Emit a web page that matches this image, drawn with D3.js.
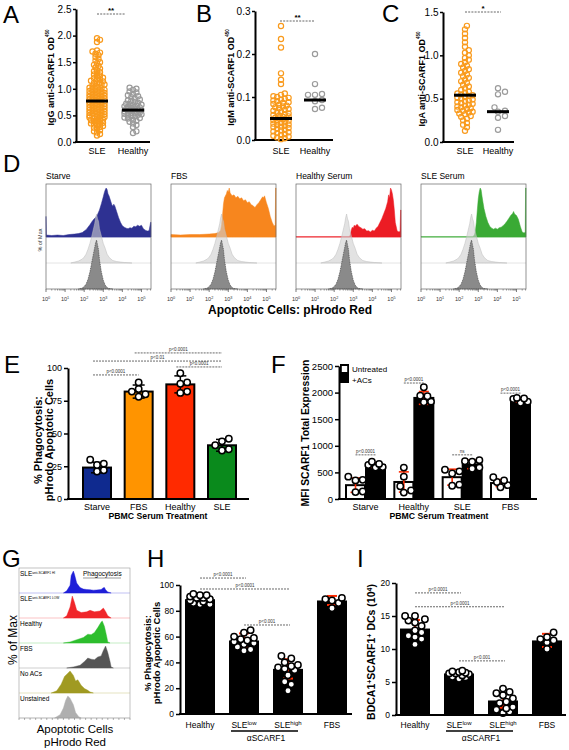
<!DOCTYPE html>
<html><head><meta charset="utf-8">
<script src="https://cdn.jsdelivr.net/npm/d3@7"></script>
<style>body{margin:0;background:#fff;} svg{display:block;}</style>
</head><body><svg id="c" width="569" height="750"></svg>
<script>
// ================= DATA =================
const topGroups = ["SLE", "Healthy"];
const aSLE = [0.12,0.15,0.18,0.2,0.22,0.25,0.27,0.28,0.3,0.31,0.33,0.34,0.35,0.36,0.38,0.39,0.4,0.41,0.42,0.43,0.44,0.45,0.46,0.47,0.48,0.49,0.5,0.5,0.51,0.52,0.53,0.54,0.55,0.55,0.56,0.57,0.58,0.59,0.6,0.6,0.61,0.62,0.63,0.64,0.65,0.65,0.66,0.67,0.68,0.69,0.7,0.7,0.71,0.72,0.73,0.74,0.75,0.75,0.76,0.77,0.78,0.79,0.8,0.8,0.81,0.82,0.83,0.84,0.85,0.85,0.86,0.87,0.88,0.89,0.9,0.9,0.91,0.92,0.93,0.94,0.95,0.96,0.97,0.98,0.99,1.0,1.01,1.02,1.03,1.05,1.06,1.07,1.08,1.1,1.11,1.12,1.14,1.15,1.17,1.18,1.2,1.21,1.23,1.25,1.27,1.29,1.31,1.33,1.35,1.38,1.4,1.43,1.45,1.48,1.5,1.53,1.56,1.6,1.63,1.66,1.68,1.7,1.72,1.88,1.92,1.95];
const aHealthy = [0.17,0.2,0.28,0.32,0.35,0.38,0.4,0.42,0.44,0.45,0.46,0.48,0.49,0.5,0.51,0.52,0.53,0.54,0.55,0.55,0.56,0.57,0.58,0.59,0.6,0.6,0.61,0.62,0.63,0.64,0.65,0.66,0.67,0.68,0.69,0.7,0.71,0.72,0.74,0.75,0.77,0.78,0.8,0.82,0.84,0.86,0.88,0.9,0.93,0.95,0.98,1.0,1.02];
const aMedians = [0.77, 0.60];
const bSLE = [0.002,0.004,0.006,0.008,0.01,0.012,0.014,0.016,0.018,0.02,0.022,0.024,0.026,0.028,0.03,0.031,0.033,0.035,0.036,0.038,0.04,0.041,0.043,0.045,0.046,0.048,0.05,0.051,0.052,0.054,0.055,0.057,0.058,0.06,0.062,0.064,0.066,0.068,0.07,0.072,0.074,0.076,0.078,0.08,0.082,0.084,0.086,0.088,0.09,0.092,0.094,0.096,0.098,0.1,0.102,0.105,0.108,0.13,0.14,0.155,0.215,0.235,0.265];
const bHealthy = [0.20,0.13,0.107,0.105,0.105,0.093,0.09,0.075,0.072];
const bMedians = [0.05, 0.093];
const cSLE = [0.13,0.17,0.2,0.22,0.25,0.27,0.29,0.3,0.32,0.33,0.34,0.35,0.36,0.37,0.38,0.39,0.4,0.41,0.42,0.43,0.44,0.45,0.46,0.47,0.48,0.49,0.5,0.51,0.52,0.53,0.54,0.55,0.56,0.57,0.58,0.6,0.62,0.64,0.66,0.68,0.7,0.72,0.74,0.76,0.78,0.8,0.82,0.84,0.86,0.88,0.9,0.92,0.95,0.97,1.0,1.03,1.06,1.1,1.15,1.2,1.25,1.3,1.34];
const cHealthy = [0.62,0.58,0.55,0.40,0.36,0.35,0.30,0.28,0.14];
const cMedians = [0.54, 0.35];

// Panel D histograms: [log10 intensity, % of max]
const dTitles = ["Starve", "FBS", "Healthy Serum", "SLE Serum"];
const dStarve = [[0,42],[0.02,4],[0.3,3],[0.6,4],[0.9,3],[1.2,5],[1.5,6],[1.7,7],[1.9,9],[2.0,12],[2.1,15],[2.2,20],[2.3,25],[2.4,31],[2.5,36],[2.6,40],[2.7,46],[2.8,55],[2.9,68],[3.0,82],[3.05,90],[3.1,96],[3.15,100],[3.2,97],[3.25,88],[3.3,84],[3.4,72],[3.45,66],[3.5,63],[3.55,67],[3.6,64],[3.65,58],[3.7,52],[3.8,40],[3.9,30],[4.0,23],[4.1,20],[4.2,18],[4.3,17],[4.4,19],[4.5,18],[4.6,22],[4.7,21],[4.8,24],[4.9,22],[5.0,24],[5.1,17],[5.2,14],[5.3,12],[5.4,13],[5.48,30],[5.5,30]];
const dFBS = [[0,5],[0.5,4],[1.0,5],[1.5,5],[2.0,6],[2.3,7],[2.5,9],[2.6,14],[2.65,25],[2.7,45],[2.75,68],[2.8,80],[2.9,88],[2.95,95],[3.0,92],[3.05,100],[3.1,90],[3.2,84],[3.3,86],[3.4,80],[3.5,83],[3.6,78],[3.7,80],[3.8,74],[3.9,76],[4.0,70],[4.1,72],[4.2,66],[4.3,64],[4.4,60],[4.5,66],[4.6,70],[4.7,76],[4.8,82],[4.85,80],[4.9,84],[5.0,70],[5.1,58],[5.2,42],[5.3,30],[5.4,22],[5.46,25],[5.48,100],[5.5,100]];
const dHealthy = [[0,0.5],[2.8,0.5],[2.85,5],[2.9,15],[2.95,20],[3.0,18],[3.05,24],[3.1,22],[3.2,26],[3.3,21],[3.4,19],[3.5,16],[3.6,17],[3.7,12],[3.8,13],[3.9,10],[4.0,14],[4.1,12],[4.2,18],[4.3,22],[4.4,30],[4.5,38],[4.6,48],[4.7,58],[4.8,72],[4.85,86],[4.9,80],[4.95,100],[5.0,96],[5.05,88],[5.1,75],[5.15,55],[5.2,30],[5.3,12],[5.4,10],[5.45,12],[5.48,55],[5.5,55]];
const dSLE = [[0,0.5],[2.7,0.5],[2.8,4],[2.85,12],[2.9,30],[2.95,55],[3.0,78],[3.05,92],[3.1,100],[3.15,96],[3.2,82],[3.25,70],[3.3,58],[3.4,42],[3.5,30],[3.6,22],[3.7,18],[3.8,16],[3.9,18],[4.0,16],[4.1,19],[4.2,20],[4.3,23],[4.4,27],[4.5,32],[4.6,38],[4.7,44],[4.8,48],[4.85,52],[4.9,47],[5.0,44],[5.1,36],[5.2,22],[5.3,10],[5.4,8],[5.46,10],[5.48,100],[5.5,100]];
const dLightRef = [[1.3,0],[1.5,2],[1.7,4],[1.9,8],[2.0,12],[2.1,18],[2.2,28],[2.3,40],[2.4,55],[2.5,72],[2.55,80],[2.6,92],[2.65,100],[2.7,90],[2.75,85],[2.8,70],[2.9,55],[3.0,40],[3.1,30],[3.2,18],[3.3,12],[3.4,8],[3.5,5],[3.7,3],[3.9,2],[4.1,1],[4.5,0]];
const dDarkRef = [[1.7,0],[1.9,2],[2.0,5],[2.1,10],[2.2,20],[2.3,35],[2.4,55],[2.5,75],[2.55,85],[2.6,95],[2.65,100],[2.7,90],[2.75,80],[2.8,60],[2.9,35],[3.0,18],[3.1,8],[3.2,3],[3.3,1],[3.5,0]];
const dDecades = [0,1,2,3,4,5];

// Panel E
const eCats = ["Starve", "FBS", "Healthy", "SLE"];
const eMeans = [24, 82, 87.5, 41];
const eSD = [4, 5, 6.5, 4.5];
const ePoints = [[30,27,26,22,21],[89,84,82,80,78],[96,89,88,82,81],[46,44,41,38,37]];
const eSigFrom = ["Starve","Healthy","Starve","FBS"];
const eSigTo = ["FBS","SLE","SLE","SLE"];
const eSigLevel = [94.7, 100.8, 105.3, 111.5];
const eSigText = ["p<0.0001","p<0.0001","p<0.01","p<0.0001"];

// Panel F
const fCats = ["Starve", "Healthy", "SLE", "FBS"];
const fSeries = ["Untreated", "+ACs"];
const fMeansU = [260, 320, 410, 300];
const fMeansA = [640, 1900, 650, 1860];
const fSDU = [135, 190, 150, 65];
const fSDA = [45, 120, 80, 35];
const fPtsU = [[420,360,350,140,130],[590,420,240,160,120],[550,520,480,270,250],[410,350,320,260,220]];
const fPtsA = [[700,660,640,600,590],[2100,1940,1930,1830,1820],[730,710,700,590,570],[1900,1890,1880,1830,1810]];
const fSigLevel = [830, 2180, 830, 1990];
const fSigText = ["p<0.0001","p<0.0001","ns","p<0.0001"];

// Panel G histograms: [fraction of axis, % of max]
const gLabels = ["SLE","SLE","Healthy","FBS","No ACs","Unstained"];
const gSups = ["anti-SCARF1 HI","anti-SCARF1 LOW","","","",""];
const gHi = [[0.40,0],[0.43,10],[0.46,35],[0.47,80],[0.49,100],[0.50,85],[0.52,45],[0.55,25],[0.58,18],[0.61,16],[0.64,15],[0.67,13],[0.70,14],[0.74,16],[0.76,24],[0.77,25],[0.78,15],[0.80,5],[0.83,0]];
const gLow = [[0.40,0],[0.43,10],[0.46,50],[0.48,100],[0.50,70],[0.52,35],[0.56,25],[0.61,28],[0.64,35],[0.68,28],[0.73,32],[0.76,45],[0.78,30],[0.80,10],[0.83,0]];
const gHealthy = [[0.40,0],[0.46,5],[0.52,15],[0.58,25],[0.62,40],[0.65,38],[0.68,48],[0.71,70],[0.74,95],[0.75,100],[0.77,75],[0.79,30],[0.80,5],[0.82,0]];
const gFBS = [[0.43,0],[0.49,5],[0.55,12],[0.59,30],[0.62,45],[0.65,40],[0.68,38],[0.71,50],[0.74,55],[0.76,80],[0.78,100],[0.80,70],[0.82,30],[0.83,5],[0.85,0]];
const gNoACs = [[0.29,0],[0.34,10],[0.38,40],[0.41,75],[0.44,90],[0.46,100],[0.49,80],[0.51,55],[0.53,60],[0.56,35],[0.59,20],[0.62,12],[0.64,5],[0.67,0]];
const gUnstained = [[0.32,0],[0.37,15],[0.40,45],[0.42,80],[0.44,100],[0.46,90],[0.49,60],[0.51,25],[0.54,5],[0.56,0]];

// Panels H, I
const hiCats = ["Healthy", "SLElow", "SLEhigh", "FBS"];
const hMeans = [89, 57, 35, 88];
const hSD = [2.5, 5.5, 7.5, 3.5];
const hPts = [[93,92,92,91,90,90,89,88,87,86,85,85],[65,63,60,59,58,57,56,55,54,52,50,49],[45,43,40,38,37,36,35,34,30,25,23,18],[90,89,88,86,82]];
const hSigFrom = ["Healthy","Healthy","SLElow"];
const hSigTo = ["SLElow","SLEhigh","SLEhigh"];
const hSigLevel = [105.4, 96.9, 69];
const hSigText = ["p<0.0001","p<0.0001","p<0.001"];
const iMeans = [13.1, 6.3, 2.2, 11.3];
const iSD = [1.3, 0.3, 1.1, 1.0];
const iPts = [[15.0,15.0,14.5,14.3,14.0,13.5,12.8,12.5,12.0,11.8,11.5,10.7],[6.7,6.6,6.5,6.4,6.3,6.3,6.2,6.0,5.8,5.7,5.5],[4.0,3.5,3.3,3.0,2.5,2.0,1.8,1.2,1.0,0.8,0.5,0.3],[12.5,11.8,11.5,11.3,11.0,10.0]];
const iSigLevel = [18.5, 16.4, 8.2];
const iSigText = ["p<0.0001","p<0.0001","p<0.001"];

// ================= DRAWING =================
const FONT = "'Liberation Sans', Arial, Helvetica, sans-serif";
const svg = d3.select("#c").attr("font-family", FONT);
svg.append("rect").attr("width",569).attr("height",750).attr("fill","#fff");

function txt(x, y, s, size, opts = {}) {
  const t = svg.append("text").attr("x", x).attr("y", y).attr("font-size", size)
    .attr("fill", opts.fill || "#000").attr("text-anchor", opts.anchor || "start")
    .attr("font-weight", opts.bold ? "bold" : "normal");
  if (opts.rotate) t.attr("transform", `rotate(-90,${x},${y})`);
  if (s !== null) t.text(s);
  return t;
}
function rich(t, parts, supSize, shift) {
  let up = false;
  parts.forEach(([s, sup]) => {
    const ts = t.append("tspan").text(s);
    if (sup) { ts.attr("font-size", supSize); if (!up) { ts.attr("dy", -shift); up = true; } }
    else if (up) { ts.attr("dy", shift); up = false; }
  });
  return t;
}
function yAxis(scale, x, ticks, fmt, fs, tk = 4, pad = 2) {
  const ax = svg.append("g").attr("transform", `translate(${x},0)`)
    .call(d3.axisLeft(scale).tickValues(ticks).tickFormat(fmt).tickSize(tk).tickSizeOuter(0).tickPadding(pad));
  ax.attr("font-family", FONT);
  ax.select(".domain").attr("stroke-width", 2).attr("stroke", "#000");
  ax.selectAll(".tick line").attr("stroke-width", 1.5).attr("stroke", "#000");
  ax.selectAll("text").attr("font-size", fs).attr("fill", "#000");
}
function hline(x1, x2, y, w, col = "#000") {
  svg.append("line").attr("x1", x1).attr("x2", x2).attr("y1", y).attr("y2", y)
    .attr("stroke", col).attr("stroke-width", w);
}
function sigLine(x1, x2, y, label, fs) {
  svg.append("line").attr("x1", x1).attr("x2", x2).attr("y1", y).attr("y2", y)
    .attr("stroke", "#444").attr("stroke-width", 0.8).attr("stroke-dasharray", "2,1");
  txt((x1 + x2) / 2, y - 2, label, fs, { anchor: "middle", fill: "#333" });
}
function swarm(vals, y, cx, d, step, maxOff) {
  const out = [];
  [...vals].sort((a, b) => a - b).forEach(v => {
    const py = y(v);
    const cands = [0];
    for (let k = 1; k * step <= maxOff; k++) cands.push(k * step, -k * step);
    let bestOff = 0, bestScore = -1;
    for (const off of cands) {
      let m = Infinity;
      for (const p of out) { const dd = Math.hypot(p.x - (cx + off), p.y - py); if (dd < m) m = dd; }
      if (m >= d) { bestOff = off; break; }
      if (m > bestScore) { bestScore = m; bestOff = off; }
    }
    out.push({ x: cx + bestOff, y: py, v });
  });
  return out;
}

// ---------- Top dot plots A, B, C ----------
const topPanels = [
  { L: "A", lx: 3, ly: 23, ax: 76, xEnd: 150, yTop: 9, yBot: 142, dom: [0, 2.5], ticks: [0,0.5,1,1.5,2,2.5], xr: [97,133],
    data: [aSLE, aHealthy], med: aMedians, lab: "IgG anti-SCARF1 OD", labX: 53.5, sig: "**", sigY: 14, sigX: [97,125],
    swarmP: [[3.0,1.5,8],[3.4,1.7,10]] },
  { L: "B", lx: 196, ly: 22, ax: 255, xEnd: 333, yTop: 11, yBot: 140, dom: [0, 0.3], ticks: [0,0.1,0.2,0.3], xr: [281,315],
    data: [bSLE, bHealthy], med: bMedians, lab: "IgM anti-SCARF1 OD", labX: 234, sig: "**", sigY: 21, sigX: [280,315],
    swarmP: [[3.8,1.9,9],[5.2,3.5,10]] },
  { L: "C", lx: 382, ly: 22, ax: 443, xEnd: 514, yTop: 12, yBot: 142, dom: [0, 1.5], ticks: [0,0.5,1,1.5], xr: [465,498],
    data: [cSLE, cHealthy], med: cMedians, lab: "IgA anti-SCARF1 OD", labX: 425, sig: "*", sigY: 12, sigX: [465,501],
    swarmP: [[3.8,1.9,9],[5.2,3.5,10]] }
];
const topColors = ["#F99A1C", "#9b9b9b"];
topPanels.forEach(p => {
  txt(p.lx, p.ly, p.L, 24);
  const y = d3.scaleLinear().domain(p.dom).range([p.yBot, p.yTop]);
  const x = d3.scalePoint().domain(topGroups).range(p.xr);
  yAxis(y, p.ax, p.ticks, d3.format(".1f"), 10, 3, 1.5);
  hline(p.ax - 1, p.xEnd, p.yBot, 2);
  topGroups.forEach((g, i) => {
    txt(x(g), 154, g, 9, { anchor: "middle" });
    const pts = swarm(p.data[i], y, x(g), ...p.swarmP[i]);
    svg.append("g").selectAll("circle").data(pts).join("circle")
      .attr("cx", d => d.x).attr("cy", d => d.y).attr("r", 2.6)
      .attr("fill", "none").attr("stroke", topColors[i]).attr("stroke-width", 1.2);
  });
  topGroups.forEach((g, i) => hline(x(g) - 11, x(g) + 11, y(p.med[i]), 3));
  svg.append("line").attr("x1", p.sigX[0]).attr("x2", p.sigX[1]).attr("y1", p.sigY).attr("y2", p.sigY)
    .attr("stroke", "#555").attr("stroke-width", 0.9).attr("stroke-dasharray", "2,1.2");
  txt((p.sigX[0] + p.sigX[1]) / 2, p.sigY - 1, p.sig, 8, { anchor: "middle", bold: true });
  const t = txt(p.labX, (p.yTop + p.yBot) / 2 + 2, null, 9, { anchor: "middle", bold: true, rotate: true });
  rich(t, [[p.lab, false], ["450", true]], 4.5, 5);
});

// ---------- Panel D ----------
txt(3, 172, "D", 24);
const dData = [dStarve, dFBS, dHealthy, dSLE];
const dColors = ["#2E3192", "#F7861E", "#EC1C24", "#3AAA35"];
const dX0 = [46, 171, 296, 421];
const dW = 105, dTop = 184, dBot = 289, b1 = 237, b2 = 263;
dData.forEach((h, i) => {
  const x0 = dX0[i];
  const x = d3.scaleLinear().domain([0, 5.5]).range([x0, x0 + dW]);
  txt(x0, 179, dTitles[i], 8.5);
  const g = svg.append("g");
  const area = base => d3.area().x(d => x(d[0])).y0(base).y1(d => base - d[1] * 0.49);
  g.append("line").attr("x1", x0).attr("x2", x0 + dW).attr("y1", b1).attr("y2", b1).attr("stroke", dColors[i]).attr("stroke-opacity", 0.5).attr("stroke-width", 0.8);
  g.append("path").datum(h).attr("d", area(b1)).attr("fill", dColors[i]).attr("stroke", dColors[i]).attr("stroke-width", 0.5);
  g.append("line").attr("x1", x0).attr("x2", x0 + dW).attr("y1", b2).attr("y2", b2).attr("stroke", "#ddd").attr("stroke-width", 0.8);
  g.append("path").datum(dLightRef).attr("d", area(b2)).attr("fill", "#cfcfcf").attr("fill-opacity", 0.6).attr("stroke", "#bdbdbd").attr("stroke-width", 0.5);
  g.append("path").datum(dDarkRef).attr("d", area(dBot)).attr("fill", "#8a8a8a").attr("stroke", "#333").attr("stroke-width", 0.6).attr("stroke-dasharray", "1,0.8");
  g.append("rect").attr("x", x0).attr("y", dTop).attr("width", dW).attr("height", dBot - dTop)
    .attr("fill", "none").attr("stroke", "#666").attr("stroke-width", 0.7);
  dDecades.forEach(k => {
    g.append("line").attr("x1", x(k)).attr("x2", x(k)).attr("y1", dBot).attr("y2", dBot + 3).attr("stroke", "#444").attr("stroke-width", 0.7);
    for (let m = 2; m <= 9; m++) {
      const lx = k + Math.log10(m);
      if (lx <= 5.5) g.append("line").attr("x1", x(lx)).attr("x2", x(lx)).attr("y1", dBot).attr("y2", dBot + 1.6).attr("stroke", "#444").attr("stroke-width", 0.5);
    }
    const t = txt(x(k), 301, null, 5.5, { anchor: "middle", fill: "#333" });
    rich(t, [["10", false], [String(k), true]], 3.8, 2.5);
  });
});
txt(42, 240, "% of Max", 5.5, { anchor: "middle", rotate: true, fill: "#333" });
txt(290, 314, "Apoptotic Cells: pHrodo Red", 12, { anchor: "middle", bold: true });

// ---------- Bar helpers ----------
function dots(pts, fill = "#fff") {
  svg.append("g").selectAll("circle").data(pts).join("circle")
    .attr("cx", d => d.x).attr("cy", d => d.y).attr("r", 3.2)
    .attr("fill", fill).attr("stroke", "#000").attr("stroke-width", 1.5);
}
function errBar(cx, y, m, sd, col, w, cap) {
  const g = svg.append("g").attr("stroke", col).attr("stroke-width", w);
  g.append("line").attr("x1", cx).attr("x2", cx).attr("y1", y(m - sd)).attr("y2", y(m + sd));
  g.append("line").attr("x1", cx - cap).attr("x2", cx + cap).attr("y1", y(m + sd)).attr("y2", y(m + sd));
  g.append("line").attr("x1", cx - cap).attr("x2", cx + cap).attr("y1", y(m - sd)).attr("y2", y(m - sd));
}

// ---------- Panel E ----------
txt(4, 373, "E", 24);
{
  const y = d3.scaleLinear().domain([0, 100]).range([499, 368]);
  const x = d3.scalePoint().domain(eCats).range([97, 222]);
  const eColors = ["#0F2A8F", "#FF9400", "#FF2A00", "#0A8A1C"];
  yAxis(y, 68, [0, 25, 50, 75, 100], d3.format("d"), 9);
  eCats.forEach((c, i) => {
    svg.append("rect").attr("x", x(c) - 14).attr("width", 28).attr("y", y(eMeans[i])).attr("height", y(0) - y(eMeans[i]))
      .attr("fill", eColors[i]).attr("stroke", "#000").attr("stroke-width", 2);
    errBar(x(c), y, eMeans[i], eSD[i], "#000", 1.5, 6);
    dots(swarm(ePoints[i], y, x(c), 6.4, 3.4, 11));
    txt(x(c), 510, c, 9, { anchor: "middle" });
  });
  hline(67, 249, 499, 2);
  eSigFrom.forEach((f, i) => sigLine(x(f) - 4, x(eSigTo[i]), y(eSigLevel[i]), eSigText[i], 4.5));
  txt(158, 519, "PBMC Serum Treatment", 8.7, { anchor: "middle", bold: true });
  txt(42, 440, "% Phagocytosis:", 11, { anchor: "middle", bold: true, rotate: true });
  txt(53, 440, "pHrodo Apoptotic Cells", 11, { anchor: "middle", bold: true, rotate: true });
}

// ---------- Panel F ----------
txt(271, 373, "F", 24);
{
  const y = d3.scaleLinear().domain([0, 2500]).range([499, 366]);
  const x = d3.scalePoint().domain(fCats).range([365.5, 510.5]);
  yAxis(y, 339, [0, 500, 1000, 1500, 2000, 2500], d3.format("d"), 9.5);
  fCats.forEach((c, i) => {
    const cu = x(c) - 10, ca = x(c) + 10;
    svg.append("rect").attr("x", cu - 9.5).attr("width", 19).attr("y", y(fMeansU[i])).attr("height", y(0) - y(fMeansU[i]))
      .attr("fill", "#fff").attr("stroke", "#000").attr("stroke-width", 2);
    svg.append("rect").attr("x", ca - 9.5).attr("width", 19).attr("y", y(fMeansA[i])).attr("height", y(0) - y(fMeansA[i]))
      .attr("fill", "#000").attr("stroke", "#000").attr("stroke-width", 2);
    errBar(cu, y, fMeansU[i], fSDU[i], "#FF2A00", 1.6, 5);
    errBar(ca, y, fMeansA[i], fSDA[i], "#FF2A00", 1.6, 5);
    dots(swarm(fPtsU[i], y, cu, 6.4, 3.6, 8));
    dots(swarm(fPtsA[i], y, ca, 6.4, 3.6, 8));
    sigLine(cu, ca, y(fSigLevel[i]), fSigText[i], 4.5);
    txt(x(c), 510, c, 9, { anchor: "middle" });
  });
  hline(338, 537, 499, 2);
  svg.append("rect").attr("x", 340).attr("y", 364).attr("width", 9).attr("height", 19).attr("fill", "#000");
  svg.append("rect").attr("x", 341.8).attr("y", 366).attr("width", 5.4).attr("height", 6).attr("fill", "#fff");
  txt(352, 372, fSeries[0], 8);
  txt(352, 383, fSeries[1], 8);
  txt(439, 518.5, "PBMC Serum Treatment", 8.7, { anchor: "middle", bold: true });
  txt(309, 433, "MFI SCARF1 Total Expression", 10.3, { anchor: "middle", bold: true, rotate: true });
}

// ---------- Panel G ----------
txt(2, 567, "G", 24);
{
  const gData = [gHi, gLow, gHealthy, gFBS, gNoACs, gUnstained];
  const gColors = ["#1F1FD8", "#F0262A", "#2DBE2D", "#555555", "#A09A22", "#AFAFAF"];
  const x0 = 19, x1 = 130, top = 568, rowH = 25;
  const x = d3.scaleLinear().domain([0, 1]).range([x0, x1]);
  gData.forEach((h, i) => {
    const base = top + rowH * (i + 1);
    svg.append("line").attr("x1", x0).attr("x2", x1).attr("y1", base).attr("y2", base)
      .attr("stroke", gColors[i]).attr("stroke-opacity", 0.35).attr("stroke-width", 0.8);
    svg.append("path").datum(h).attr("d", d3.area().x(d => x(d[0])).y0(base).y1(d => base - d[1] * 0.22))
      .attr("fill", gColors[i]).attr("stroke", gColors[i]).attr("stroke-width", 0.4);
    const t = txt(20, top + rowH * i + 8, null, 6.5);
    rich(t, [[gLabels[i], false], [gSups[i], true]], 3.2, 2.5);
  });
  svg.append("rect").attr("x", x0).attr("y", top).attr("width", x1 - x0).attr("height", rowH * 6)
    .attr("fill", "none").attr("stroke", "#999").attr("stroke-width", 0.6);
  d3.range(0, 1.0001, 0.05).forEach(v => {
    svg.append("line").attr("x1", x(v)).attr("x2", x(v)).attr("y1", top + rowH * 6).attr("y2", top + rowH * 6 + 2)
      .attr("stroke", "#666").attr("stroke-width", 0.5);
  });
  txt(83, 576, "Phagocytosis", 6.5);
  hline(83, 121, 578, 0.5, "#333");
  txt(17, 640, "% of Max", 12, { anchor: "middle", rotate: true });
  txt(75, 733, "Apoptotic Cells", 11.5, { anchor: "middle" });
  txt(75, 746, "pHrodo Red", 11.5, { anchor: "middle" });
}

// ---------- Panels H, I ----------
function hiPanel(cfg) {
  txt(cfg.lx, 567, cfg.L, 24);
  const y = d3.scaleLinear().domain(cfg.dom).range([cfg.y0, cfg.y1]);
  const x = d3.scalePoint().domain(hiCats).range(cfg.xr);
  yAxis(y, cfg.ax, cfg.ticks, d3.format("d"), 8.5);
  hiCats.forEach((c, i) => {
    svg.append("rect").attr("x", x(c) - 15).attr("width", 30).attr("y", y(cfg.means[i])).attr("height", y(0) - y(cfg.means[i]))
      .attr("fill", "#000");
    errBar(x(c), y, cfg.means[i], cfg.sd[i], "#FF2A00", 2, 5);
    dots(swarm(cfg.pts[i], y, x(c), 6.6, 3.3, 12));
  });
  hline(cfg.ax - 1, cfg.xEnd, cfg.y0, 2);
  hSigFrom.forEach((f, i) => sigLine(x(f), x(hSigTo[i]) + 2, y(cfg.sigL[i]), cfg.sigT[i], 4.5));
  txt(x("Healthy"), 728, "Healthy", 8.5, { anchor: "middle" });
  txt(x("FBS"), 728, "FBS", 8.5, { anchor: "middle" });
  rich(txt(x("SLElow"), 728, null, 8.5, { anchor: "middle" }), [["SLE", false], ["low", true]], 6, 3.5);
  rich(txt(x("SLEhigh"), 728, null, 8.5, { anchor: "middle" }), [["SLE", false], ["high", true]], 6, 3.5);
  hline(x("SLElow") - 13, x("SLEhigh") + 10, 731, 1.3);
  txt((x("SLElow") + x("SLEhigh")) / 2, 741, "\u03B1SCARF1", 8.5, { anchor: "middle" });
  cfg.ylab(y);
}
hiPanel({ L: "H", lx: 147, ax: 180, xEnd: 352, y0: 714, y1: 585, dom: [0, 100], ticks: [0,20,40,60,80,100], xr: [200, 332],
  means: hMeans, sd: hSD, pts: hPts, sigL: hSigLevel, sigT: hSigText,
  ylab: () => {
    txt(151, 653, "% Phagocytosis:", 9.5, { anchor: "middle", bold: true, rotate: true });
    txt(160, 653, "pHrodo Apopotic Cells", 9.5, { anchor: "middle", bold: true, rotate: true });
  } });
hiPanel({ L: "I", lx: 357, ax: 396, xEnd: 566, y0: 715, y1: 583, dom: [0, 20], ticks: [0,5,10,15,20], xr: [415, 547],
  means: iMeans, sd: iSD, pts: iPts, sigL: iSigLevel, sigT: iSigText,
  ylab: () => {
    const t = txt(375, 652, null, 10.5, { anchor: "middle", bold: true, rotate: true });
    rich(t, [["BDCA1", false], ["+", true], ["SCARF1", false], ["+", true], [" DCs (10", false], ["4", true], [")", false]], 7, 3.5);
  } });
</script></body></html>
